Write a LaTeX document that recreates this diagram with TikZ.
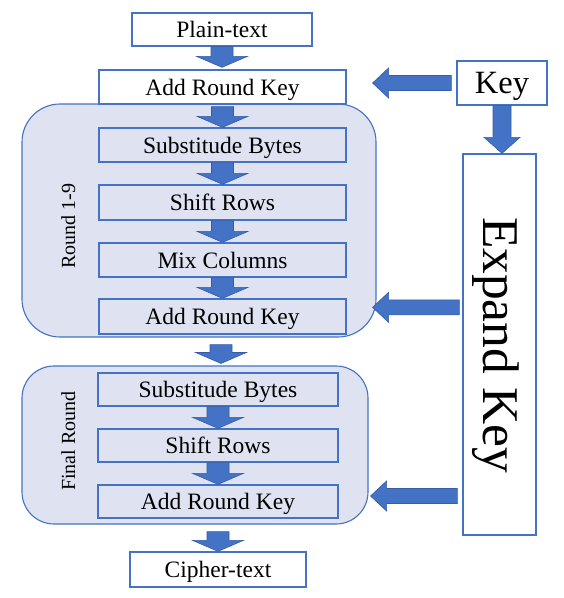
\documentclass[tikz,border=0pt]{standalone}
\usepackage{fontspec}
\setmainfont{Liberation Serif}
\usetikzlibrary{calc}
\definecolor{ablue}{RGB}{68,114,196}
\definecolor{adark}{RGB}{52,92,170}
\definecolor{rfill}{RGB}{222,226,241}
\newcommand{\blk}[5]{%
  \coordinate (bA) at #1; \coordinate (bB) at #2;
  \coordinate (bH) at ($(bB)!#5!(bA)$);
  \filldraw[blkarrow] ($(bA)!#3!90:(bB)$) -- ($(bH)!#3!90:(bB)$) -- ($(bH)!#4!90:(bB)$) -- (bB)
    -- ($(bH)!#4!-90:(bB)$) -- ($(bH)!#3!-90:(bB)$) -- ($(bA)!#3!-90:(bB)$) -- cycle;}
\tikzset{
  stepbox/.style={draw=ablue, line width=1.3pt, inner sep=0pt, text depth=0pt, font=\fontsize{23.5}{28}\selectfont},
  roundbox/.style={draw=ablue, line width=1.1pt, fill=rfill, inner sep=0pt},
  blkarrow/.style={fill=ablue, draw=adark, line width=0.6pt, line join=miter},
  sidelabel/.style={rotate=90, anchor=base, inner sep=0pt, font=\fontsize{20}{24}\selectfont},
}
\begin{document}
\begin{tikzpicture}[x=1pt,y=-1pt]
\useasboundingbox (0,0) rectangle (564,598);
% round containers
\node[roundbox, rounded corners=38pt, minimum width=354pt, minimum height=233pt] (r1) at (199,220.5) {};
\node[roundbox, rounded corners=32pt, minimum width=346pt, minimum height=158pt] (r2) at (195,445) {};
% steps
\node[stepbox, fill=white, minimum width=180pt, minimum height=33pt] (pt) at (222,29.5) {Plain-text};
\node[stepbox, fill=white, minimum width=247pt, minimum height=34pt] (ark0) at (222.5,87) {Add Round Key};
\node[stepbox, minimum width=247pt, minimum height=34pt] (sb1) at (222.5,145) {Substitude Bytes};
\node[stepbox, minimum width=247pt, minimum height=35pt] (sr1) at (222.5,202.5) {Shift Rows};
\node[stepbox, minimum width=247pt, minimum height=34pt] (mc) at (222.5,260) {Mix Columns};
\node[stepbox, minimum width=247pt, minimum height=35pt] (ark1) at (222.5,316.5) {Add Round Key};
\node[stepbox, minimum width=240pt, minimum height=33pt] (sb2) at (218,389.5) {Substitude Bytes};
\node[stepbox, minimum width=240pt, minimum height=33pt] (sr2) at (218,445.5) {Shift Rows};
\node[stepbox, minimum width=240pt, minimum height=33pt] (ark2) at (218,501.5) {Add Round Key};
\node[stepbox, fill=white, minimum width=176pt, minimum height=35pt] (ct) at (218,569.5) {Cipher-text};
\node[stepbox, fill=white, minimum width=90pt, minimum height=44pt, font=\fontsize{32.5}{38}\selectfont] (key) at (502,83) {Key};
\node[stepbox, fill=white, minimum width=73pt, minimum height=381pt] (ek) at (499.5,344.5) {};
\node[rotate=-90, anchor=base, inner sep=0pt, font=\fontsize{51.5}{60}\selectfont] (ekt) at (483,345) {Expand Key};
% side labels
\node[sidelabel] (l1) at (75,226) {Round 1-9};
\node[sidelabel] (l2) at (75,441) {Final Round};
% vertical block arrows
\blk{(pt.south)}{($(pt.south |- ark0.north)+(0,-2)$)}{11pt}{25.5pt}{11pt}
\blk{($(ark0.south)+(0,2)$)}{(sb1.north)}{11pt}{25.5pt}{11pt}
\blk{(sb1.south)}{(sr1.north)}{11pt}{25.5pt}{11pt}
\blk{(sr1.south)}{(mc.north)}{11pt}{25.5pt}{11pt}
\blk{(mc.south)}{(ark1.north)}{11pt}{25.5pt}{11pt}
\blk{($(ark1.south |- r1.south)+(-1.5,7)$)}{($(ark1.south |- r2.north)+(-1.5,-2)$)}{11pt}{25.5pt}{11pt}
\blk{(sb2.south)}{(sr2.north)}{11pt}{25.5pt}{11pt}
\blk{(sr2.south)}{(ark2.north)}{11pt}{25.5pt}{11pt}
\blk{($(ark2.south |- r2.south)+(0,7)$)}{(ark2.south |- ct.north)}{11pt}{25.5pt}{11pt}
% key arrows
\blk{($(key.west)+(-5,0)$)}{($(r1.east |- key.west)+(-4,0)$)}{7.5pt}{15pt}{16pt}
\blk{(key.south)}{(key.south |- ek.north)}{9pt}{18pt}{16pt}
\blk{($(ek.west |- ark1.north)+(-3,9)$)}{($(r1.east |- ark1.north)+(-4,9)$)}{7.5pt}{15pt}{16pt}
\blk{($(ek.west |- ark2.center)+(-5,-5.5)$)}{($(r2.east |- ark2.center)+(2,-5.5)$)}{7.5pt}{15pt}{16pt}
\end{tikzpicture}
\end{document}
